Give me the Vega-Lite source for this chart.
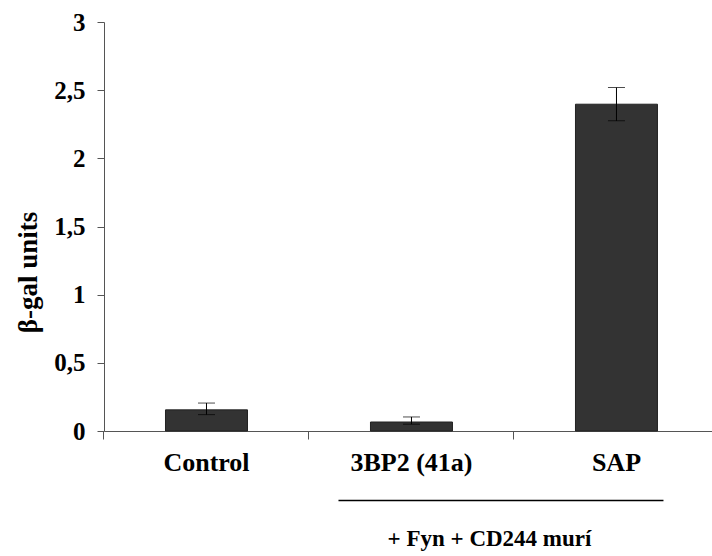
{
  "$schema": "https://vega.github.io/schema/vega-lite/v6.json",
  "width": 608,
  "height": 409,
  "autosize": "none",
  "padding": {"left": 104, "top": 22, "right": 0, "bottom": 125},
  "background": "white",
  "config": {
    "view": {"stroke": null},
    "font": "Liberation Serif",
    "axis": {"grid": false, "domainColor": "#555", "tickColor": "#555", "labelFont": "Liberation Serif", "labelFontWeight": "bold", "labelColor": "black", "titleFont": "Liberation Serif", "titleFontWeight": "bold", "titleColor": "black"}
  },
  "datasets": {
    "bars": [
      {"group": "Control", "value": 0.155, "lo": 0.12, "hi": 0.205},
      {"group": "3BP2 (41a)", "value": 0.066, "lo": 0.05, "hi": 0.103},
      {"group": "SAP", "value": 2.397, "lo": 2.275, "hi": 2.519}
    ],
    "bracket": [
      {"from": "3BP2 (41a)", "to": "SAP", "y": -0.51}
    ]
  },
  "layer": [
    {
      "data": {"name": "bars"},
      "mark": {"type": "bar", "color": "#333333", "stroke": "#222222", "strokeWidth": 1},
      "encoding": {
        "x": {
          "field": "group", "type": "nominal", "sort": null,
          "scale": {"paddingInner": 0.6, "paddingOuter": 0.283, "align": 0.53},
          "axis": {
            "labelAngle": 0, "labelFontSize": 26, "labelPadding": 10, "tickSize": 8,
            "bandPosition": -0.75, "labelOverlap": false, "labelBound": false,
            "title": "+ Fyn + CD244 murí", "titleFontSize": 23, "titleX": 385, "titleY": 114, "titleBaseline": "alphabetic", "titleAlign": "center"
          }
        },
        "y": {
          "field": "value", "type": "quantitative",
          "scale": {"domain": [0, 3], "nice": false},
          "axis": {
            "values": [0, 0.5, 1, 1.5, 2, 2.5, 3], "labelExpr": "replace(toString(datum.value), '.', ',')",
            "labelFontSize": 25, "labelPadding": 12, "tickSize": 7,
            "title": "β-gal units", "titleFontSize": 27, "titleX": -76, "titleY": 250, "titleBaseline": "middle", "titleAlign": "center"
          }
        }
      }
    },
    {
      "data": {"name": "bars"},
      "mark": {"type": "rule", "color": "black", "strokeWidth": 1},
      "encoding": {
        "x": {"field": "group", "type": "nominal", "sort": null},
        "y": {"field": "lo", "type": "quantitative"},
        "y2": {"field": "hi"}
      }
    },
    {
      "data": {"name": "bars"},
      "mark": {"type": "tick", "color": "black", "size": 17, "thickness": 1},
      "encoding": {
        "x": {"field": "group", "type": "nominal", "sort": null},
        "y": {"field": "lo", "type": "quantitative"}
      }
    },
    {
      "data": {"name": "bars"},
      "mark": {"type": "tick", "color": "black", "size": 17, "thickness": 1},
      "encoding": {
        "x": {"field": "group", "type": "nominal", "sort": null},
        "y": {"field": "hi", "type": "quantitative"}
      }
    },
    {
      "data": {"name": "bracket"},
      "mark": {"type": "rule", "color": "black", "strokeWidth": 1.5, "xOffset": -73, "x2Offset": 47},
      "encoding": {
        "x": {"field": "from", "type": "nominal", "sort": null},
        "x2": {"field": "to"},
        "y": {"field": "y", "type": "quantitative"}
      }
    }
  ]
}
